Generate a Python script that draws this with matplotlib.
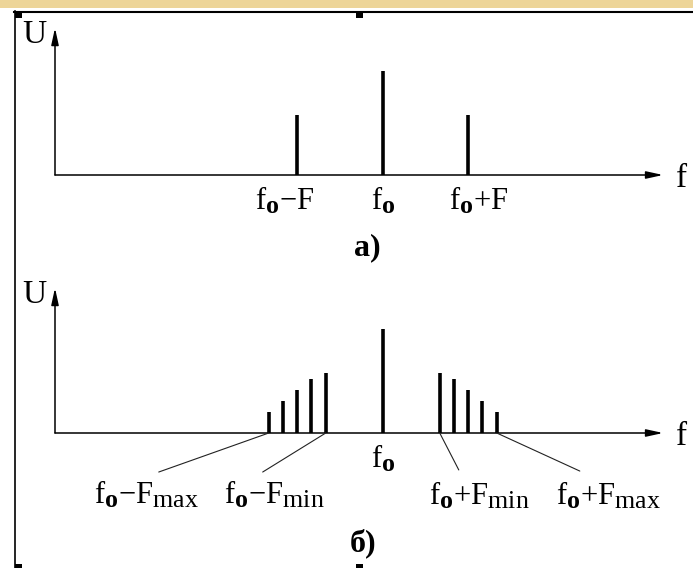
import matplotlib
matplotlib.use('Agg')
import matplotlib.pyplot as plt
from matplotlib.patches import Rectangle
from matplotlib.lines import Line2D

try:
    import matplotlib._mathtext as _mt
    _mt.SHRINK_FACTOR = 0.85
except Exception:
    pass

plt.rcParams['font.family'] = ['Liberation Serif', 'DejaVu Serif']
plt.rcParams['mathtext.fontset'] = 'custom'
plt.rcParams['mathtext.rm'] = 'Liberation Serif'
plt.rcParams['mathtext.bf'] = 'Liberation Serif:bold'
plt.rcParams['mathtext.it'] = 'Liberation Serif:italic'

# ---------------- data ----------------
f0 = 23.0                      # carrier frequency (arbitrary units)
F_a = 6.0                      # single modulating frequency (panel a)
U_carrier = 1.0
U_side_a = 0.58
F_b = [4, 5, 6, 7, 8]          # Fmin .. Fmax (panel b)
U_side_b = [0.58, 0.52, 0.41, 0.31, 0.20]
f_axis_end = 42.67
U_axis_top_a = 1.413
U_axis_top_b = 1.394

FO = r'$\mathrm{f}_{\mathbf{o}}$'
labels_a = [FO + '−F', FO, FO + '+F']
labels_b_side = [FO + r'−$\mathrm{F}_{\mathrm{max}}$', FO + r'−$\mathrm{F}_{\mathrm{min}}$',
                 FO + r'+$\mathrm{F}_{\mathrm{min}}$', FO + r'+$\mathrm{F}_{\mathrm{max}}$']
caption_a = 'а)'
caption_b = 'б)'

# ---------------- layout ----------------
W, H = 693, 568
fig = plt.figure(figsize=(W / 100, H / 100), dpi=100)
fig.patch.set_facecolor('white')

x0_px, px_per_f, px_per_U = 55, 14.25, 104
xlim = (-x0_px / px_per_f, (W - x0_px) / px_per_f)

ax_a = fig.add_axes([0, 0.5, 1, 0.5])
ax_a.set_xlim(xlim)
ax_a.set_ylim(-(284 - 175) / px_per_U, 175 / px_per_U)
ax_b = fig.add_axes([0, 0, 1, 0.5])
ax_b.set_xlim(xlim)
ax_b.set_ylim(-(568 - 433) / px_per_U, (433 - 284) / px_per_U)
for ax in (ax_a, ax_b):
    ax.axis('off')
    ax.patch.set_alpha(0)

FS = 22
arrow_kw = dict(arrowstyle='-|>,head_length=1.0,head_width=0.22', mutation_scale=10,
                lw=1.1, color='black', shrinkA=0, shrinkB=0)


def draw_axes(ax, top):
    ax.annotate('', xy=(f_axis_end, 0), xytext=(0, 0), arrowprops=arrow_kw)
    ax.annotate('', xy=(0, top), xytext=(0, 0), arrowprops=arrow_kw)
    ax.annotate('U', xy=(0, top), xytext=(-15, -4.7), textcoords='offset points',
                ha='center', va='center', fontsize=24)
    ax.annotate('f', xy=(f_axis_end, 0), xytext=(13, -8.6), textcoords='offset points',
                ha='center', va='baseline', fontsize=24)


# ---- panel a ----
draw_axes(ax_a, U_axis_top_a)
xs_a = [f0 - F_a, f0, f0 + F_a]
us_a = [U_side_a, U_carrier, U_side_a]
ax_a.vlines(xs_a, 0, us_a, lw=2.6, color='black', capstyle='butt')
for x, lab, dx in zip(xs_a, labels_a, [-9.0, 0.3, 7.6]):
    ax_a.annotate(lab, xy=(x, 0), xytext=(dx, -24.5), textcoords='offset points',
                  ha='center', va='baseline', fontsize=FS)

# ---- panel b ----
draw_axes(ax_b, U_axis_top_b)
xs_lo = [f0 - F for F in F_b]
xs_hi = [f0 + F for F in F_b]
ax_b.vlines(xs_lo + [f0] + xs_hi, 0, U_side_b + [U_carrier] + U_side_b,
            lw=2.6, color='black', capstyle='butt')
ax_b.annotate(FO, xy=(f0, 0), xytext=(0.7, -24.5), textcoords='offset points',
              ha='center', va='baseline', fontsize=FS)

anchors = [f0 - max(F_b), f0 - min(F_b), f0 + min(F_b), f0 + max(F_b)]
leader_ends = [(-79.2, -28.1), (-45.4, -28.1), (13.7, -26.6), (59.8, -27.4)]
label_offs = [(-87.8, -51.1), (-36.7, -51.1), (28.8, -51.8), (80.6, -51.8)]
for xa, le, lo, lab in zip(anchors, leader_ends, label_offs, labels_b_side):
    ax_b.annotate('', xy=(xa, 0), xytext=le, textcoords='offset points',
                  arrowprops=dict(arrowstyle='-', lw=0.8, color='#222222',
                                  shrinkA=0, shrinkB=0))
    ax_b.annotate(lab, xy=(xa, 0), xytext=lo, textcoords='offset points',
                  ha='center', va='baseline', fontsize=FS)

# captions
fig.text(367 / W, 1 - 248 / H, caption_a, ha='center', va='center',
         fontsize=23, fontweight='bold')
fig.text(363.5 / W, 1 - 543 / H, caption_b, ha='center', va='center',
         fontsize=23, fontweight='bold')

# ---------------- decorations (slide frame) ----------------
fig.add_artist(Rectangle((0, 1 - 7.5 / H), 1, 7.5 / H, transform=fig.transFigure,
                         facecolor='#edd599', edgecolor='none'))
fig.add_artist(Line2D([14.7 / W, 14.7 / W], [0, 1 - 11 / H], transform=fig.transFigure,
                      lw=1.2, color='black'))
fig.add_artist(Line2D([14 / W, 1], [1 - 11.5 / H, 1 - 11.5 / H], transform=fig.transFigure,
                      lw=1.5, color='black'))
for (sx, sy, sw, sh) in [(15, 11, 7, 6.5), (356, 11, 7, 6.5), (15, 564, 7, 4), (356, 564, 7, 4)]:
    fig.add_artist(Rectangle((sx / W, 1 - (sy + sh) / H), sw / W, sh / H,
                             transform=fig.transFigure, facecolor='black', edgecolor='none'))

fig.savefig('out.png', dpi=100)
